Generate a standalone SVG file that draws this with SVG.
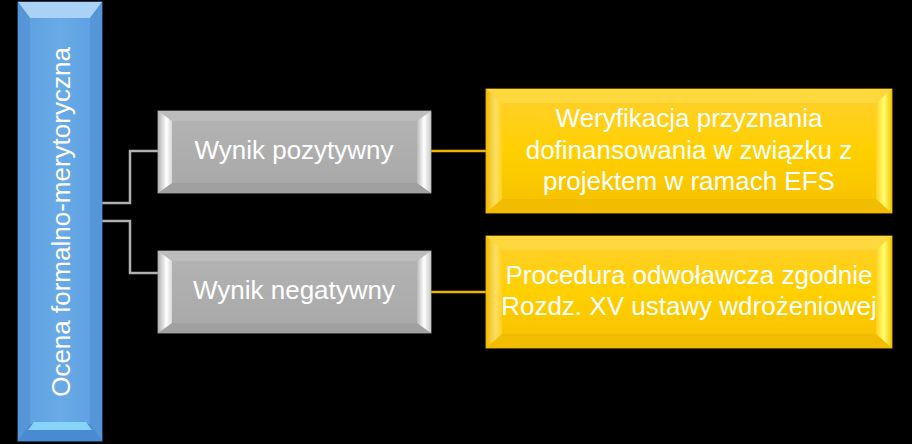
<svg xmlns="http://www.w3.org/2000/svg" width="912" height="444" viewBox="0 0 912 444">
<defs>
<linearGradient id="gBlue" x1="0" y1="0" x2="1" y2="0">
<stop offset="0" stop-color="#5a9de0"/><stop offset="0.5" stop-color="#6aaae6"/><stop offset="1" stop-color="#5a9de0"/>
</linearGradient>
<linearGradient id="gGray" x1="0" y1="0" x2="0" y2="1">
<stop offset="0" stop-color="#b4b4b4"/><stop offset="1" stop-color="#a8a8a8"/>
</linearGradient>
<linearGradient id="gYel" x1="0" y1="0" x2="0" y2="1">
<stop offset="0" stop-color="#ffd030"/><stop offset="0.5" stop-color="#ffd000"/><stop offset="1" stop-color="#f6c000"/>
</linearGradient>
<linearGradient id="gGrayL" x1="0" y1="0" x2="1" y2="0">
<stop offset="0" stop-color="#b0b0b0"/><stop offset="0.6" stop-color="#ffffff"/><stop offset="1" stop-color="#d8d8d8"/>
</linearGradient>
<linearGradient id="gGrayR" x1="1" y1="0" x2="0" y2="0">
<stop offset="0" stop-color="#c8c8c8"/><stop offset="0.5" stop-color="#ffffff"/><stop offset="1" stop-color="#b8b8b8"/>
</linearGradient>
<linearGradient id="gYelL" x1="0" y1="0" x2="1" y2="0">
<stop offset="0" stop-color="#f0b800"/><stop offset="0.6" stop-color="#ffe066"/><stop offset="1" stop-color="#ffd020"/>
</linearGradient>
<linearGradient id="gYelR" x1="1" y1="0" x2="0" y2="0">
<stop offset="0" stop-color="#f0c000"/><stop offset="0.5" stop-color="#ffff70"/><stop offset="1" stop-color="#ffd020"/>
</linearGradient>
</defs>
<style>
.t{font-family:"Liberation Sans",Arial,sans-serif;font-size:26px;fill:#ffffff;text-anchor:middle}
.cg{fill:none;stroke:#b0b0b0;stroke-width:2.5}
.cy{fill:none;stroke:#f0b400;stroke-width:2.5}
</style>
<rect width="912" height="444" fill="#000000"/>
<g id="connectors">
<polyline class="cg" points="102,203 130,203 130,151 158,151"/>
<polyline class="cg" points="102,221 130,221 130,273 158,273"/>
<line class="cy" x1="431" y1="151" x2="486" y2="151"/>
<line class="cy" x1="431" y1="292" x2="486" y2="292"/>
</g>
<g id="node-ocena">
<rect x="18" y="2" width="84" height="439" fill="url(#gBlue)" stroke="#3f76b0" stroke-width="1"/>
<polygon points="18,2 102,2 90,18 30,18" fill="#a9d2f7"/>
<polygon points="18,2 30,18 30,424 18,441" fill="#5595d8"/>
<polygon points="102,2 90,18 90,424 102,441" fill="#5595d8"/>
<polygon points="30,424 90,424 102,441 18,441" fill="#4a8ad2"/>
<polygon points="34,422 86,422 92,430 28,430" fill="#86d4f7"/>
<text class="t" transform="translate(69.5,222) rotate(-90)">Ocena formalno-merytoryczna</text>
</g>
<g id="node-poz">
<rect x="158" y="111" width="273" height="82" fill="url(#gGray)" stroke="#8c8c8c" stroke-width="1"/>
<polygon points="158,111 431,111 417,121 172,121" fill="#bcbcbc"/>
<polygon points="158,193 431,193 417,183 172,183" fill="#a0a0a0"/>
<polygon points="158,111 172,121 172,183 158,193" fill="url(#gGrayL)"/>
<polygon points="431,111 417,121 417,183 431,193" fill="url(#gGrayR)"/>
<text class="t" x="294" y="159">Wynik pozytywny</text>
</g>
<g id="node-neg">
<rect x="158" y="251" width="273" height="82" fill="url(#gGray)" stroke="#8c8c8c" stroke-width="1"/>
<polygon points="158,251 431,251 417,261 172,261" fill="#bcbcbc"/>
<polygon points="158,333 431,333 417,323 172,323" fill="#a0a0a0"/>
<polygon points="158,251 172,261 172,323 158,333" fill="url(#gGrayL)"/>
<polygon points="431,251 417,261 417,323 431,333" fill="url(#gGrayR)"/>
<text class="t" x="294" y="299">Wynik negatywny</text>
</g>
<g id="node-wer">
<rect x="486" y="89" width="406" height="124" fill="url(#gYel)" stroke="#c89600" stroke-width="1"/>
<polygon points="486,89 892,89 876,103 502,103" fill="#ffd840"/>
<polygon points="486,213 892,213 876,199 502,199" fill="#f2bc00"/>
<polygon points="486,89 502,103 502,199 486,213" fill="url(#gYelL)"/>
<polygon points="892,89 876,103 876,199 892,213" fill="url(#gYelR)"/>
<text class="t" x="689" y="127">Weryfikacja przyznania</text>
<text class="t" x="689" y="158.5">dofinansowania w związku z</text>
<text class="t" x="689" y="190">projektem w ramach EFS</text>
</g>
<g id="node-proc">
<rect x="486" y="236" width="406" height="112" fill="url(#gYel)" stroke="#c89600" stroke-width="1"/>
<polygon points="486,236 892,236 876,250 502,250" fill="#ffd840"/>
<polygon points="486,348 892,348 876,334 502,334" fill="#f2bc00"/>
<polygon points="486,236 502,250 502,334 486,348" fill="url(#gYelL)"/>
<polygon points="892,236 876,250 876,334 892,348" fill="url(#gYelR)"/>
<text class="t" x="689" y="284">Procedura odwoławcza zgodnie</text>
<text class="t" x="689" y="315">Rozdz. XV ustawy wdrożeniowej</text>
</g>
</svg>
